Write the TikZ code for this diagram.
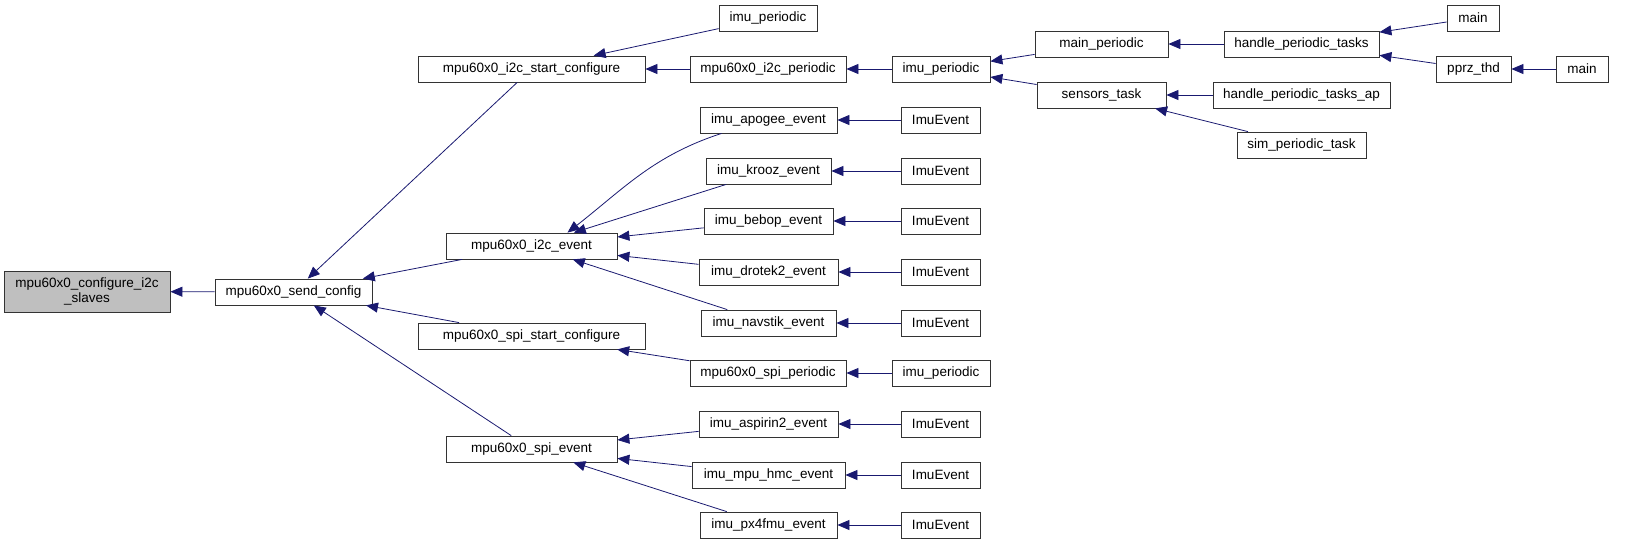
\documentclass[tikz,border=0pt]{standalone}
\usepackage{fontspec}
\setmainfont{Liberation Sans}
\usetikzlibrary{arrows.meta}
\definecolor{callblue}{HTML}{191970}
\definecolor{focusgray}{HTML}{BFBFBF}

\begin{document}
\begin{tikzpicture}[x=1pt,y=-1pt]

% Define box height
\def\boxh{26}
% Define box and arrow styles
\tikzset{fn/.style={draw=black!80, line width=0.8pt, fill=white,
        minimum height=\boxh, inner sep=0pt,
        font=\fontsize{13.5}{15}\selectfont}, % Function box
    focus/.style={fn, fill=focusgray, align=center}, % Box of the documented function
    calls/.style={draw=callblue, line width=0.8pt,
        -{Triangle[length=12pt, width=10pt]}} % Call arrow
        }

% Page frame
\useasboundingbox (0,0) rectangle (1641,544);

% Column 1 and 2
\node[focus, minimum width=166, minimum height=41] (configure) at (87,291.5) {mpu60x0\_configure\_i2c\\\_slaves};
\node[fn, minimum width=157] (sendconfig) at (293.5,292) {mpu60x0\_send\_config};

% Column 3
\node[fn, minimum width=227] (i2cstart) at (531.5,69) {mpu60x0\_i2c\_start\_configure};
\node[fn, minimum width=171] (i2cevent) at (531.5,246) {mpu60x0\_i2c\_event};
\node[fn, minimum width=227] (spistart) at (531.5,336) {mpu60x0\_spi\_start\_configure};
\node[fn, minimum width=171] (spievent) at (531.5,449) {mpu60x0\_spi\_event};

% Column 4
\node[fn, minimum width=98] (periodica) at (768,18) {imu\_periodic};
\node[fn, minimum width=156] (i2cperiodic) at (768,69) {mpu60x0\_i2c\_periodic};
\node[fn, minimum width=137] (apogee) at (768.5,120) {imu\_apogee\_event};
\node[fn, minimum width=125] (krooz) at (768.5,171) {imu\_krooz\_event};
\node[fn, minimum width=129] (bebop) at (768.5,221) {imu\_bebop\_event};
\node[fn, minimum width=139] (drotek) at (768.5,272) {imu\_drotek2\_event};
\node[fn, minimum width=135] (navstik) at (768.5,323) {imu\_navstik\_event};
\node[fn, minimum width=156] (spiperiodic) at (768,373) {mpu60x0\_spi\_periodic};
\node[fn, minimum width=139] (aspirin) at (768.5,424) {imu\_aspirin2\_event};
\node[fn, minimum width=153] (mpuhmc) at (768.5,475) {imu\_mpu\_hmc\_event};
\node[fn, minimum width=137] (pxfmu) at (768.5,525) {imu\_px4fmu\_event};

% Column 5
\node[fn, minimum width=98] (periodicb) at (941,69) {imu\_periodic};
\node[fn, minimum width=98] (periodicc) at (941,373) {imu\_periodic};
\foreach \ev/\y in {apogee/120, krooz/171, bebop/221, drotek/272, navstik/323,
                    aspirin/424, mpuhmc/475, pxfmu/525} {
    \node[fn, minimum width=79] (imuevent-\ev) at (940.5,\y) {ImuEvent};
    \draw[calls] (imuevent-\ev) -- (\ev);
}

% Columns 6 to 9
\node[fn, minimum width=133] (mainperiodic) at (1101.5,44) {main\_periodic};
\node[fn, minimum width=129] (sensorstask) at (1101.5,95) {sensors\_task};
\node[fn, minimum width=155] (hpt) at (1301.5,44) {handle\_periodic\_tasks};
\node[fn, minimum width=177] (hptap) at (1301.5,95) {handle\_periodic\_tasks\_ap};
\node[fn, minimum width=129] (simtask) at (1301.5,145) {sim\_periodic\_task};
\node[fn, minimum width=52] (maina) at (1473,18) {main};
\node[fn, minimum width=75] (pprzthd) at (1473.5,69) {pprz\_thd};
\node[fn, minimum width=52] (mainb) at (1582,69) {main};

% Calls
\draw[calls] (sendconfig) -- (configure);
\draw[calls] (i2cstart) -- (sendconfig);
\draw[calls] (i2cevent) -- (sendconfig);
\draw[calls] (spistart) -- (sendconfig);
\draw[calls] (spievent) -- (sendconfig);
\draw[calls] (periodica) -- (i2cstart);
\draw[calls] (i2cperiodic) -- (i2cstart);
\draw[calls] ([xshift=22]apogee.south west) to[out=198, in=38] ([xshift=36]i2cevent.north);
\draw[calls] (krooz) -- (i2cevent);
\draw[calls] (bebop) -- (i2cevent);
\draw[calls] (drotek) -- (i2cevent);
\draw[calls] (navstik) -- (i2cevent);
\draw[calls] (spiperiodic) -- (spistart);
\draw[calls] (aspirin) -- (spievent);
\draw[calls] (mpuhmc) -- (spievent);
\draw[calls] (pxfmu) -- (spievent);
\draw[calls] (periodicb) -- (i2cperiodic);
\draw[calls] (periodicc) -- (spiperiodic);
\draw[calls] (mainperiodic) -- (periodicb);
\draw[calls] (sensorstask) -- (periodicb);
\draw[calls] (hpt) -- (mainperiodic);
\draw[calls] (hptap) -- (sensorstask);
\draw[calls] (simtask) -- (sensorstask);
\draw[calls] (maina) -- (hpt);
\draw[calls] (pprzthd) -- (hpt);
\draw[calls] (mainb) -- (pprzthd);

\end{tikzpicture}
\end{document}
